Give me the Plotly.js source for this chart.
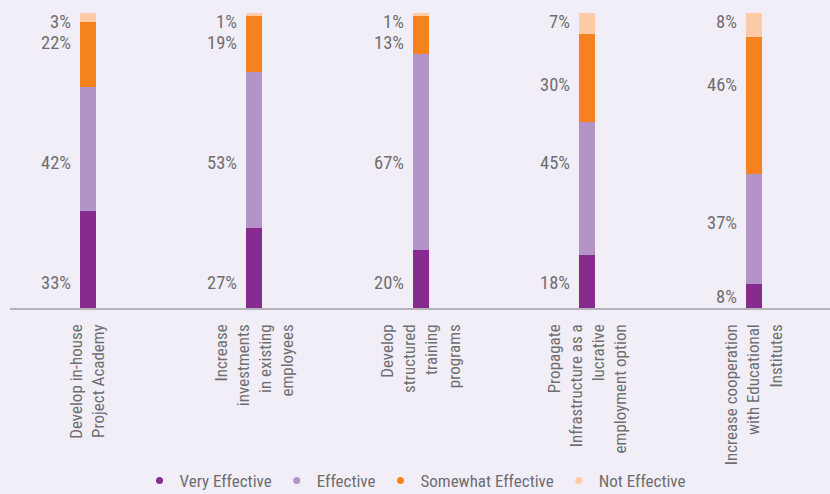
<!DOCTYPE html>
<html>
<head>
<meta charset="utf-8">
<script src="https://cdn.plot.ly/plotly-3.0.1.min.js"></script>
<style>html,body{margin:0;padding:0;background:#F2EEF7;}#chart{width:830px;height:494px;}</style>
</head>
<body>
<div id="chart"></div>
<script>
const categories = [
  "Develop in-house<br>Project Academy",
  "Increase<br>investments<br>in existing<br>employees",
  "Develop<br>structured<br>training<br>programs",
  "Propagate<br>Infrastructure as a<br>lucrative<br>employment option",
  "Increase cooperation<br>with Educational<br>Institutes"
];
const seriesNames = ["Very Effective", "Effective", "Somewhat Effective", "Not Effective"];
const veryEffective = [33, 27, 20, 18, 8];
const effective = [42, 53, 67, 45, 37];
const somewhatEffective = [22, 19, 13, 30, 46];
const notEffective = [3, 1, 1, 7, 8];

// label placement (percent of bar height) - layout only
const labelPos = [
  [8.5, 8.5, 8.5, 8.5, 3.7],
  [49.2, 49.2, 49.2, 49.2, 28.8],
  [89.8, 89.8, 89.8, 75.6, 75.6],
  [97, 97, 97, 97, 97]
];

const colors = ["#872B8E", "#B394C6", "#F5821F", "#FDCBA6"];
const FONT = "'Roboto Condensed', 'Liberation Sans Narrow', 'DejaVu Sans Condensed', Roboto, sans-serif";
const seriesVals = [veryEffective, effective, somewhatEffective, notEffective];
const xIdx = categories.map((c, i) => i);

const traces = [];
seriesVals.forEach((vals, s) => {
  traces.push({
    type: "bar", x: xIdx, y: vals, name: seriesNames[s],
    marker: {color: colors[s], line: {width: 0}},
    width: 0.096, showlegend: false, hoverinfo: "skip"
  });
});
seriesVals.forEach((vals, s) => {
  traces.push({
    type: "scatter", mode: "markers", x: [null], y: [null], name: seriesNames[s],
    marker: {color: colors[s], size: 7, symbol: "circle"}, showlegend: true
  });
});

const annotations = [];
seriesVals.forEach((vals, s) => {
  vals.forEach((v, i) => {
    annotations.push({
      x: i, y: labelPos[s][i], xref: "x", yref: "y",
      text: v + "%", showarrow: false, xanchor: "right", yanchor: "middle",
      xshift: -15, font: {family: FONT, size: 18.5, color: "#6E6E71"}
    });
  });
});

const layout = {
  width: 830, height: 494,
  margin: {l: 10, r: 0, t: 13, b: 186},
  paper_bgcolor: "#F2EEF7", plot_bgcolor: "#F2EEF7",
  barmode: "stack", barnorm: "percent",
  font: {family: FONT, size: 17, color: "#6E6E71"},
  xaxis: {
    range: [-0.468, 4.457], tickvals: xIdx, ticktext: categories,
    tickangle: -90, showline: true, linecolor: "#B5B3B8", linewidth: 1.5,
    showgrid: false, zeroline: false, ticks: "", ticklabelstandoff: 8,
    tickfont: {family: FONT, size: 17, color: "#6E6E71"}
  },
  yaxis: {range: [0, 100], visible: false, showgrid: false, zeroline: false},
  showlegend: true,
  legend: {
    orientation: "h", x: 0.5, xanchor: "center", xref: "container",
    y: 13/494, yanchor: "middle", yref: "container", traceorder: "normal",
    font: {family: FONT, size: 17, color: "#6E6E71"}, bgcolor: "rgba(0,0,0,0)"
  },
  annotations: annotations
};

Plotly.newPlot("chart", traces, layout, {displayModeBar: false, staticPlot: true});
</script>
</body>
</html>
